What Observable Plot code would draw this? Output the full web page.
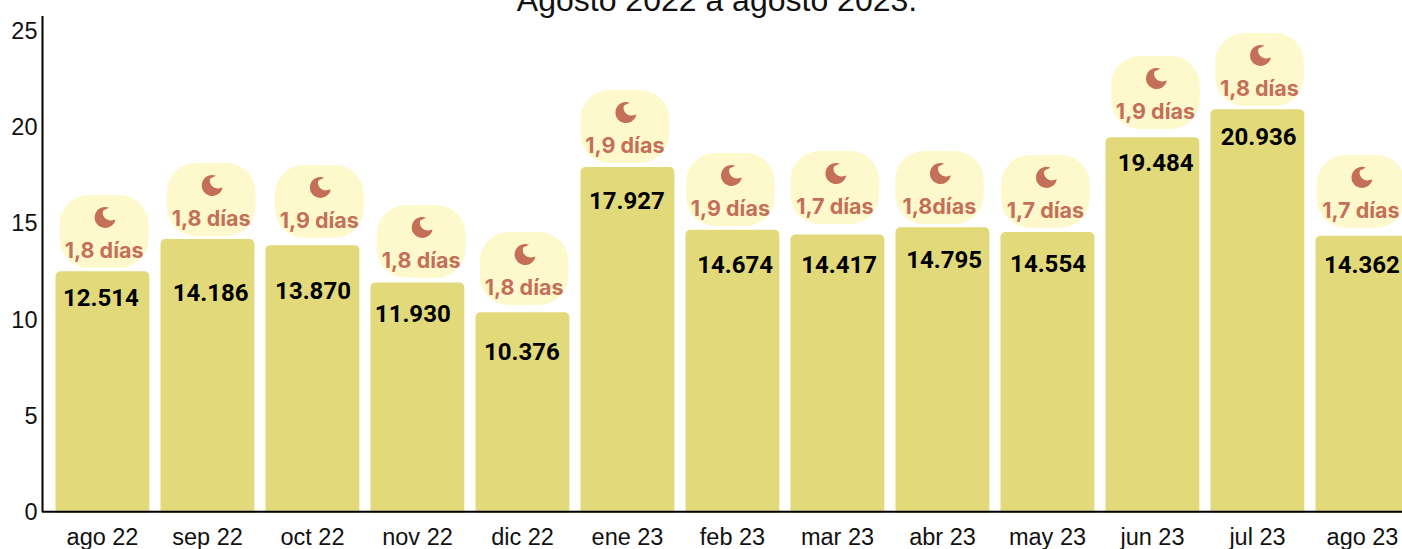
<!DOCTYPE html>
<html lang="es">
<head>
<meta charset="utf-8">
<script src="https://cdn.jsdelivr.net/npm/d3@7"></script>
<script src="https://cdn.jsdelivr.net/npm/@observablehq/plot@0.6"></script>
<style>
html,body{margin:0;padding:0;background:#fff;width:1402px;height:549px;overflow:hidden;position:relative}
#title{position:absolute;left:0;width:1434px;top:-18px;text-align:center;font:32px "Liberation Sans",Arial,sans-serif;color:#111;line-height:36px;z-index:2}
svg{display:block}
</style>
</head>
<body>
<div id="title">Agosto 2022 a agosto 2023.</div>
<div id="chart"></div>
<script>
const months = ["ago 22","sep 22","oct 22","nov 22","dic 22","ene 23","feb 23","mar 23","abr 23","may 23","jun 23","jul 23","ago 23"];
const values = [12.514,14.186,13.870,11.930,10.376,17.927,14.674,14.417,14.795,14.554,19.484,20.936,14.362];
const valueLabels = ["12.514","14.186","13.870","11.930","10.376","17.927","14.674","14.417","14.795","14.554","19.484","20.936","14.362"];
const stayLabels = ["1,8 días","1,8 días","1,9 días","1,8 días","1,8 días","1,9 días","1,9 días","1,7 días","1,8días","1,7 días","1,9 días","1,8 días","1,7 días"];
// Hand-placed annotations, in chart units
const badgeTop = [16.48,18.14,18.04,15.96,14.55,21.93,18.66,18.76,18.76,18.56,23.70,24.90,18.56];
const badgeShift = [.02,.04,.07,.04,.02,-.02,-.015,-.02,-.025,-.015,.033,.024,-.01];
const valueLabelY = [11.12,11.38,11.49,10.29,8.32,16.16,12.84,12.84,13.10,12.89,18.14,19.49,12.84];
const valueLabelShift = [-.015,.03,.005,-.045,-.005,-.005,.025,.015,.015,.005,.03,.01,-.005];

const BADGE_SPAN = 3.79, BAR_HALF = 0.447, BADGE_HALF = 0.422;
const idx = months.map((_, i) => i);

const crescent = {
  draw(ctx, size) {
    const r = Math.sqrt(size / Math.PI);
    const a0 = -Math.PI * 0.38, a1 = Math.PI * 0.06;
    ctx.moveTo(r * Math.cos(a0), r * Math.sin(a0));
    ctx.arc(0, 0, r, a0, a1, true);
    ctx.arc(r * 0.5, -r * 0.44, r * 0.72, Math.PI * 0.42, Math.PI * 1.1, false);
    ctx.closePath();
  }
};

const font = '"Liberation Sans",Arial,sans-serif';
const chart = Plot.plot({
  width: 1402, height: 549,
  marginLeft: 42, marginRight: 0, marginTop: 16, marginBottom: 37,
  style: {background: "#fff", fontFamily: font, overflow: "hidden"},
  x: {domain: [-0.5714, 12.381], label: null},
  y: {domain: [0, 25.78], label: null},
  marks: [
    Plot.rectY(idx, {
      x1: i => i - BAR_HALF + 0.004, x2: i => i + BAR_HALF + 0.004,
      y1: () => -0.05, y2: i => values[i],
      fill: "#e1d97a", rx1y2: 5, rx2y2: 5
    }),
    Plot.rect(idx, {
      x1: i => i + badgeShift[i] - BADGE_HALF, x2: i => i + badgeShift[i] + BADGE_HALF,
      y1: i => badgeTop[i] - BADGE_SPAN, y2: i => badgeTop[i],
      fill: "#fef9cc", r: 29
    }),
    Plot.dot(idx, {
      x: i => i + badgeShift[i] + 0.005, y: i => badgeTop[i], dy: 22,
      r: 10.5, symbol: crescent, fill: "#c46f58", stroke: null
    }),
    Plot.text(idx, {
      x: i => i + badgeShift[i] - 0.005, y: i => badgeTop[i], dy: 56,
      text: i => stayLabels[i], fill: "#c46f58",
      fontFamily: "Inter", fontWeight: 700, fontSize: 21.5
    }),
    Plot.text(idx, {
      x: i => i + valueLabelShift[i], y: i => valueLabelY[i],
      text: i => valueLabels[i], fill: "#000",
      fontFamily: "Roboto", fontWeight: 700, fontSize: 24
    }),
    Plot.ruleY([0.04], {stroke: "#000", strokeWidth: 2}),
    Plot.ruleX([-0.5714], {stroke: "#000", strokeWidth: 2}),
    Plot.axisY({
      ticks: [0,5,10,15,20,25], tickSize: 0, tickPadding: 5, label: null,
      fontSize: 23.5, fill: "#111"
    }),
    Plot.axisX({
      ticks: idx, tickFormat: i => months[i], tickSize: 0, tickPadding: 15.5, label: null,
      fontSize: 23.5, fill: "#111"
    })
  ]
});
document.getElementById("chart").append(chart);
</script>
</body>
</html>
